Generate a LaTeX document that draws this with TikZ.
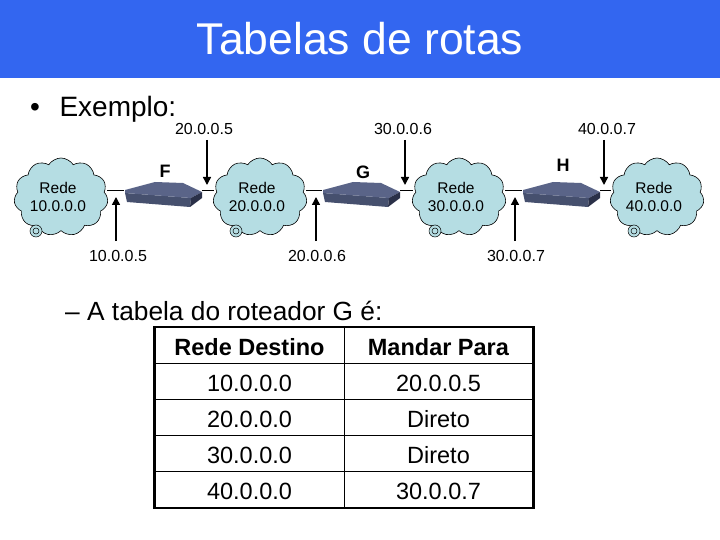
\documentclass[tikz,border=0pt]{standalone}
\usepackage{fontspec}
\setmainfont{Liberation Sans}
\usepackage{xcolor}
\usetikzlibrary{positioning, arrows.meta, shapes.symbols, fit}
\definecolor{bandblue}{HTML}{3366F0}
\definecolor{cloudfill}{HTML}{B5DDE3}
\definecolor{routertop}{HTML}{5A6488}
\definecolor{routerfront}{HTML}{46506E}
\definecolor{routerdark}{HTML}{2A3048}
\newcommand{\fs}[1]{\fontsize{#1}{#1}\selectfont}
\newcommand{\rede}[2]{\hspace*{-6pt}#1\\[3pt]\hspace*{-6pt}#2}
\tikzset{
  rede/.style={cloud, cloud puffs=11, cloud puff arc=115, aspect=1.25, draw=black, line width=0.6pt, fill=cloudfill, align=center, font=\fs{15.5}, minimum width=94pt, minimum height=78pt, inner sep=0pt},
  target/.style={circle, draw=black, line width=0.5pt, fill=cloudfill, minimum size=12pt, inner sep=0pt},
  roteador/.style={minimum width=78pt, minimum height=22pt, inner sep=0pt},
  addr/.style={font=\fs{16}, inner sep=1pt},
  rotulo/.style={font=\bfseries\fs{18}, inner sep=0pt},
  seta/.style={-{Triangle[length=8pt, width=8pt]}, line width=1.5pt, shorten <=1pt},
  celula/.style={draw=black, line width=1pt, font=\fs{23.5}, minimum height=36pt, inner sep=0pt, text height=20pt, text depth=0pt},
  routerbox/.pic={
    \fill[routerfront] (-38,3) -- (28,8) -- (27,17) -- (-36,12) -- cycle;
    \fill[routertop] (-38,3) -- (-38,0) -- (-8,-8) -- (20,-7) -- (39,2) -- (28,8) -- cycle;
    \fill[routerdark] (28,8) -- (39,2) -- (39,8) -- (27,17) -- cycle;
  },
}
\begin{document}
\begin{tikzpicture}[x=1pt, y=-1pt]
  \useasboundingbox (0,0) rectangle (720,540);
  % Title band
  \fill[bandblue] (0,0) rectangle (720,78);
  \node[text=white, font=\fs{44.5}] (titulo) at (360,39) {Tabelas de rotas};
  \node[anchor=west, font=\fs{28}, inner sep=0pt] (exemplo) at (30,109) {•\hspace{0.7em}Exemplo:};

  % Four networks
  \node[rede] (c1) at (61,197) {\rede{Rede}{10.0.0.0}};
  \node[rede] (c2) at (260,197) {\rede{Rede}{20.0.0.0}};
  \node[rede] (c3) at (459,197) {\rede{Rede}{30.0.0.0}};
  \node[rede] (c4) at (657,197) {\rede{Rede}{40.0.0.0}};
  \node[target] (t1) at (36,231) {};
  \node[target] (t2) at (236,231) {};
  \node[target] (t3) at (435,231) {};
  \node[target] (t4) at (634,231) {};
  \foreach \t in {t1,t2,t3,t4}
    \draw[line width=0.5pt] (\t) circle (3pt);

  % Routers between them
  \node[roteador] (f) at (163,190) {};
  \node[roteador] (g) at (361,190) {};
  \node[roteador] (h) at (561,190) {};
  \foreach \r in {f,g,h}
    \pic at (\r) {routerbox};
  \node[rotulo] (lf) at (165,171) {F};
  \node[rotulo] (lg) at (363,172) {G};
  \node[rotulo] (lh) at (563,165) {H};

  \draw[line width=0.7pt] (c1.east |- f.west) -- (f.west);
  \draw[line width=0.7pt] (f.east) -- (c2.west |- f.east);
  \draw[line width=0.7pt] (c2.east |- g.west) -- (g.west);
  \draw[line width=0.7pt] (g.east) -- (c3.west |- g.east);
  \draw[line width=0.7pt] (c3.east |- h.west) -- (h.west);
  \draw[line width=0.7pt] (h.east) -- (c4.west |- h.east);

  % Interface addresses below and above the line
  \foreach \nome/\txt/\lx/\ax in {a1/10.0.0.5/118/116, a2/20.0.0.6/317/316, a3/30.0.0.7/516/515}{
    \node[addr] (\nome) at (\lx,256) {\txt};
    \coordinate (\nome t) at (\ax,197);
    \coordinate (\nome s) at (\ax,242);
    \draw[seta] (\nome s) -- (\nome t);
  }
  \foreach \nome/\txt/\lx/\ax in {b1/20.0.0.5/204/207, b2/30.0.0.6/403/405, b3/40.0.0.7/607/604}{
    \node[addr] (\nome) at (\lx,129) {\txt};
    \coordinate (\nome t) at (\ax,185);
    \coordinate (\nome s) at (\ax,139);
    \draw[seta] (\nome s) -- (\nome t);
  }

  \node[anchor=west, font=\fs{26.3}, inner sep=0pt] (tabela) at (65,311) {– A tabela do roteador G é:};

  % Routing table of G
  \foreach \n/\dest/\para [count=\i from 0] in {h/\textbf{Rede Destino}/\textbf{Mandar Para}, 1/10.0.0.0/20.0.0.5, 2/20.0.0.0/Direto, 3/30.0.0.0/Direto, 4/40.0.0.0/30.0.0.7}{
    \node[celula, minimum width=189pt] (d\n) at (249.5,345.5+36*\i) {\dest};
    \node[celula, minimum width=189pt] (p\n) at (438.5,345.5+36*\i) {\para};
  }
  \node[draw=black, line width=2.2pt, inner sep=0pt, fit=(dh)(p4)] (quadro) {};
\end{tikzpicture}
\end{document}
